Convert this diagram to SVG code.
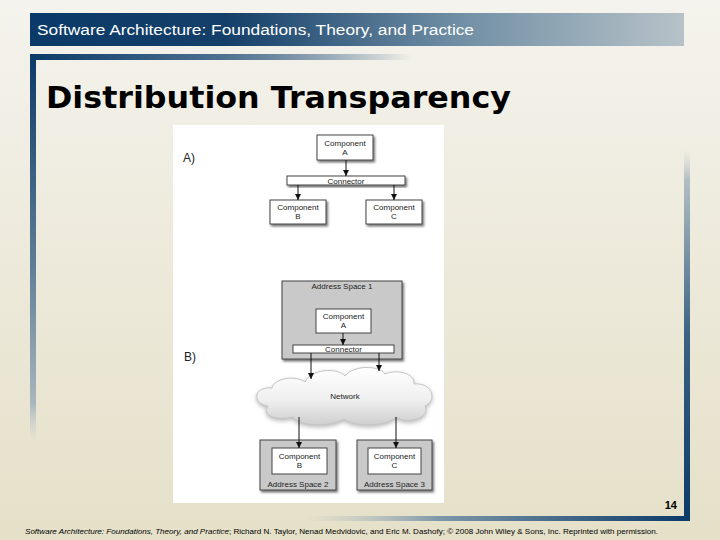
<svg xmlns="http://www.w3.org/2000/svg" width="720" height="540" viewBox="0 0 720 540">
<defs>
<linearGradient id="bg" x1="0" y1="0" x2="0" y2="1">
<stop offset="0" stop-color="#f4f3ed"/>
<stop offset="1" stop-color="#e5e0c8"/>
</linearGradient>
<linearGradient id="hdr" x1="0" y1="0" x2="1" y2="0">
<stop offset="0" stop-color="#0b3a68"/>
<stop offset="0.3" stop-color="#143f69"/>
<stop offset="0.65" stop-color="#6f8ea4"/>
<stop offset="1" stop-color="#b7c2c8"/>
</linearGradient>
<linearGradient id="topbar" x1="0" y1="0" x2="1" y2="0">
<stop offset="0" stop-color="#0b3a68"/>
<stop offset="0.5" stop-color="#4d7090"/>
<stop offset="1" stop-color="#0b3a68" stop-opacity="0"/>
</linearGradient>
<linearGradient id="leftbar" x1="0" y1="0" x2="0" y2="1">
<stop offset="0" stop-color="#0b3a68"/>
<stop offset="0.55" stop-color="#5f7f97"/>
<stop offset="0.9" stop-color="#a9b6bd"/>
<stop offset="1" stop-color="#c8cfcf" stop-opacity="0"/>
</linearGradient>
<linearGradient id="rightbar" x1="0" y1="0" x2="0" y2="1">
<stop offset="0" stop-color="#c8cfcf" stop-opacity="0"/>
<stop offset="0.08" stop-color="#b3bec3"/>
<stop offset="0.5" stop-color="#3a6283"/>
<stop offset="1" stop-color="#0b3a68"/>
</linearGradient>
<linearGradient id="botbar" x1="0" y1="0" x2="1" y2="0">
<stop offset="0" stop-color="#b3bec3" stop-opacity="0"/>
<stop offset="0.35" stop-color="#7c96a8"/>
<stop offset="1" stop-color="#0b3a68"/>
</linearGradient>
<linearGradient id="cloudfill" x1="0" y1="0" x2="0" y2="1">
<stop offset="0" stop-color="#ffffff"/>
<stop offset="0.55" stop-color="#f0f0f0"/>
<stop offset="1" stop-color="#cfcfcf"/>
</linearGradient>
<filter id="shadow" x="-20%" y="-20%" width="140%" height="150%">
<feDropShadow dx="1.5" dy="2" stdDeviation="1.3" flood-color="#000" flood-opacity="0.55"/>
</filter>
<filter id="cshadow" x="-10%" y="-20%" width="120%" height="150%">
<feDropShadow dx="0" dy="2" stdDeviation="2" flood-color="#888" flood-opacity="0.6"/>
</filter>
<marker id="arr" markerWidth="6" markerHeight="6" refX="6" refY="3" orient="auto" markerUnits="userSpaceOnUse">
<path d="M0,0 L6,3 L0,6 Z" fill="#111"/>
</marker>
<style>
.lbl{font-family:"Liberation Sans",Arial,sans-serif;font-size:8px;fill:#222;text-anchor:middle}
.comp{fill:#fff;stroke:#444;stroke-width:1}
.as{fill:#c9c9c9;stroke:#444;stroke-width:1}
.conn{fill:none;stroke:#111;stroke-width:1;marker-end:url(#arr)}
.sec{font-family:"Liberation Sans",Arial,sans-serif;font-size:12px;fill:#222}
</style>
</defs>

<rect x="0" y="0" width="720" height="540" fill="url(#bg)"/>

<g id="frame">
<rect x="30" y="13" width="654" height="33" fill="url(#hdr)"/>
<rect x="30" y="54" width="382" height="6" fill="url(#topbar)"/>
<rect x="30" y="54" width="6" height="388" fill="url(#leftbar)"/>
<rect x="684" y="150" width="6" height="371" fill="url(#rightbar)"/>
<rect x="305" y="516" width="385" height="5" fill="url(#botbar)"/>
</g>

<text x="37" y="35" font-family="Liberation Sans, Arial, sans-serif" font-size="15.5" fill="#ffffff" textLength="437" lengthAdjust="spacingAndGlyphs">Software Architecture: Foundations, Theory, and Practice</text>
<text x="46" y="108" font-family="DejaVu Sans, Verdana, sans-serif" font-weight="bold" font-size="31" fill="#000" textLength="465" lengthAdjust="spacingAndGlyphs">Distribution Transparency</text>

<rect x="173" y="125" width="271" height="378" fill="#ffffff"/>

<text class="sec" x="183" y="162">A)</text>
<text class="sec" x="184" y="361">B)</text>

<g id="a-compA">
<rect class="comp" x="317" y="135" width="56" height="25" filter="url(#shadow)"/>
<text class="lbl" x="345" y="146">Component</text>
<text class="lbl" x="345" y="155">A</text>
</g>
<g id="a-connector">
<rect class="comp" x="287" y="176" width="118" height="9" filter="url(#shadow)"/>
<text class="lbl" x="346" y="183.5">Connector</text>
</g>
<g id="a-compB">
<rect class="comp" x="270" y="200" width="56" height="24" filter="url(#shadow)"/>
<text class="lbl" x="298" y="210">Component</text>
<text class="lbl" x="298" y="219">B</text>
</g>
<g id="a-compC">
<rect class="comp" x="366" y="200" width="56" height="24" filter="url(#shadow)"/>
<text class="lbl" x="394" y="210">Component</text>
<text class="lbl" x="394" y="219">C</text>
</g>

<g id="b-as1">
<rect class="as" x="282" y="281" width="120" height="78" filter="url(#shadow)"/>
<text class="lbl" x="342" y="289">Address Space 1</text>
</g>
<g id="b-compA">
<rect class="comp" x="316" y="309" width="55" height="24"/>
<text class="lbl" x="343.5" y="319">Component</text>
<text class="lbl" x="343.5" y="328">A</text>
</g>
<g id="b-connector">
<rect class="comp" x="293" y="345" width="101" height="8"/>
<text class="lbl" x="343.5" y="352">Connector</text>
</g>

<g id="b-network">
<path d="M268 406 C252 404,253 386,272 388 C274 378,296 375,305 382 C311 369,337 367,345 376 C353 365,379 365,385 374 C397 369,415 373,414 384 C432 382,438 400,425 406 C431 418,408 425,396 417 C386 427,354 427,344 419 C332 427,300 427,293 417 C277 421,261 416,268 406 Z" fill="url(#cloudfill)" stroke="#c4c4c4" stroke-width="1" filter="url(#cshadow)"/>
<text class="lbl" x="345" y="399">Network</text>
</g>

<g id="b-as2">
<rect class="as" x="260" y="440" width="76" height="50" filter="url(#shadow)"/>
<rect class="comp" x="272" y="448" width="55" height="26"/>
<text class="lbl" x="299.5" y="459">Component</text>
<text class="lbl" x="299.5" y="468">B</text>
<text class="lbl" x="298" y="487">Address Space 2</text>
</g>
<g id="b-as3">
<rect class="as" x="357" y="440" width="75" height="50" filter="url(#shadow)"/>
<rect class="comp" x="368" y="448" width="53" height="26"/>
<text class="lbl" x="394.5" y="459">Component</text>
<text class="lbl" x="394.5" y="468">C</text>
<text class="lbl" x="394.5" y="487">Address Space 3</text>
</g>

<g id="connectors">
<line class="conn" x1="346" y1="160" x2="346" y2="176"/>
<line class="conn" x1="298" y1="185" x2="298" y2="200"/>
<line class="conn" x1="394" y1="185" x2="394" y2="200"/>
<line class="conn" x1="343" y1="333" x2="343" y2="345"/>
<line class="conn" x1="311" y1="353" x2="311" y2="379"/>
<line class="conn" x1="379" y1="353" x2="379" y2="371"/>
<line class="conn" x1="299" y1="417" x2="299" y2="448"/>
<line class="conn" x1="396" y1="417" x2="396" y2="448"/>
</g>

<text x="677" y="509" font-family="Liberation Sans, Arial, sans-serif" font-weight="bold" font-size="11" fill="#000" text-anchor="end">14</text>
<text x="25" y="534" font-family="Liberation Sans, Arial, sans-serif" font-size="7" fill="#000" textLength="633" lengthAdjust="spacingAndGlyphs"><tspan font-style="italic">Software Architecture: Foundations, Theory, and Practice</tspan>; Richard N. Taylor, Nenad Medvidovic, and Eric M. Dashofy; © 2008 John Wiley &amp; Sons, Inc. Reprinted with permission.</text>
</svg>
